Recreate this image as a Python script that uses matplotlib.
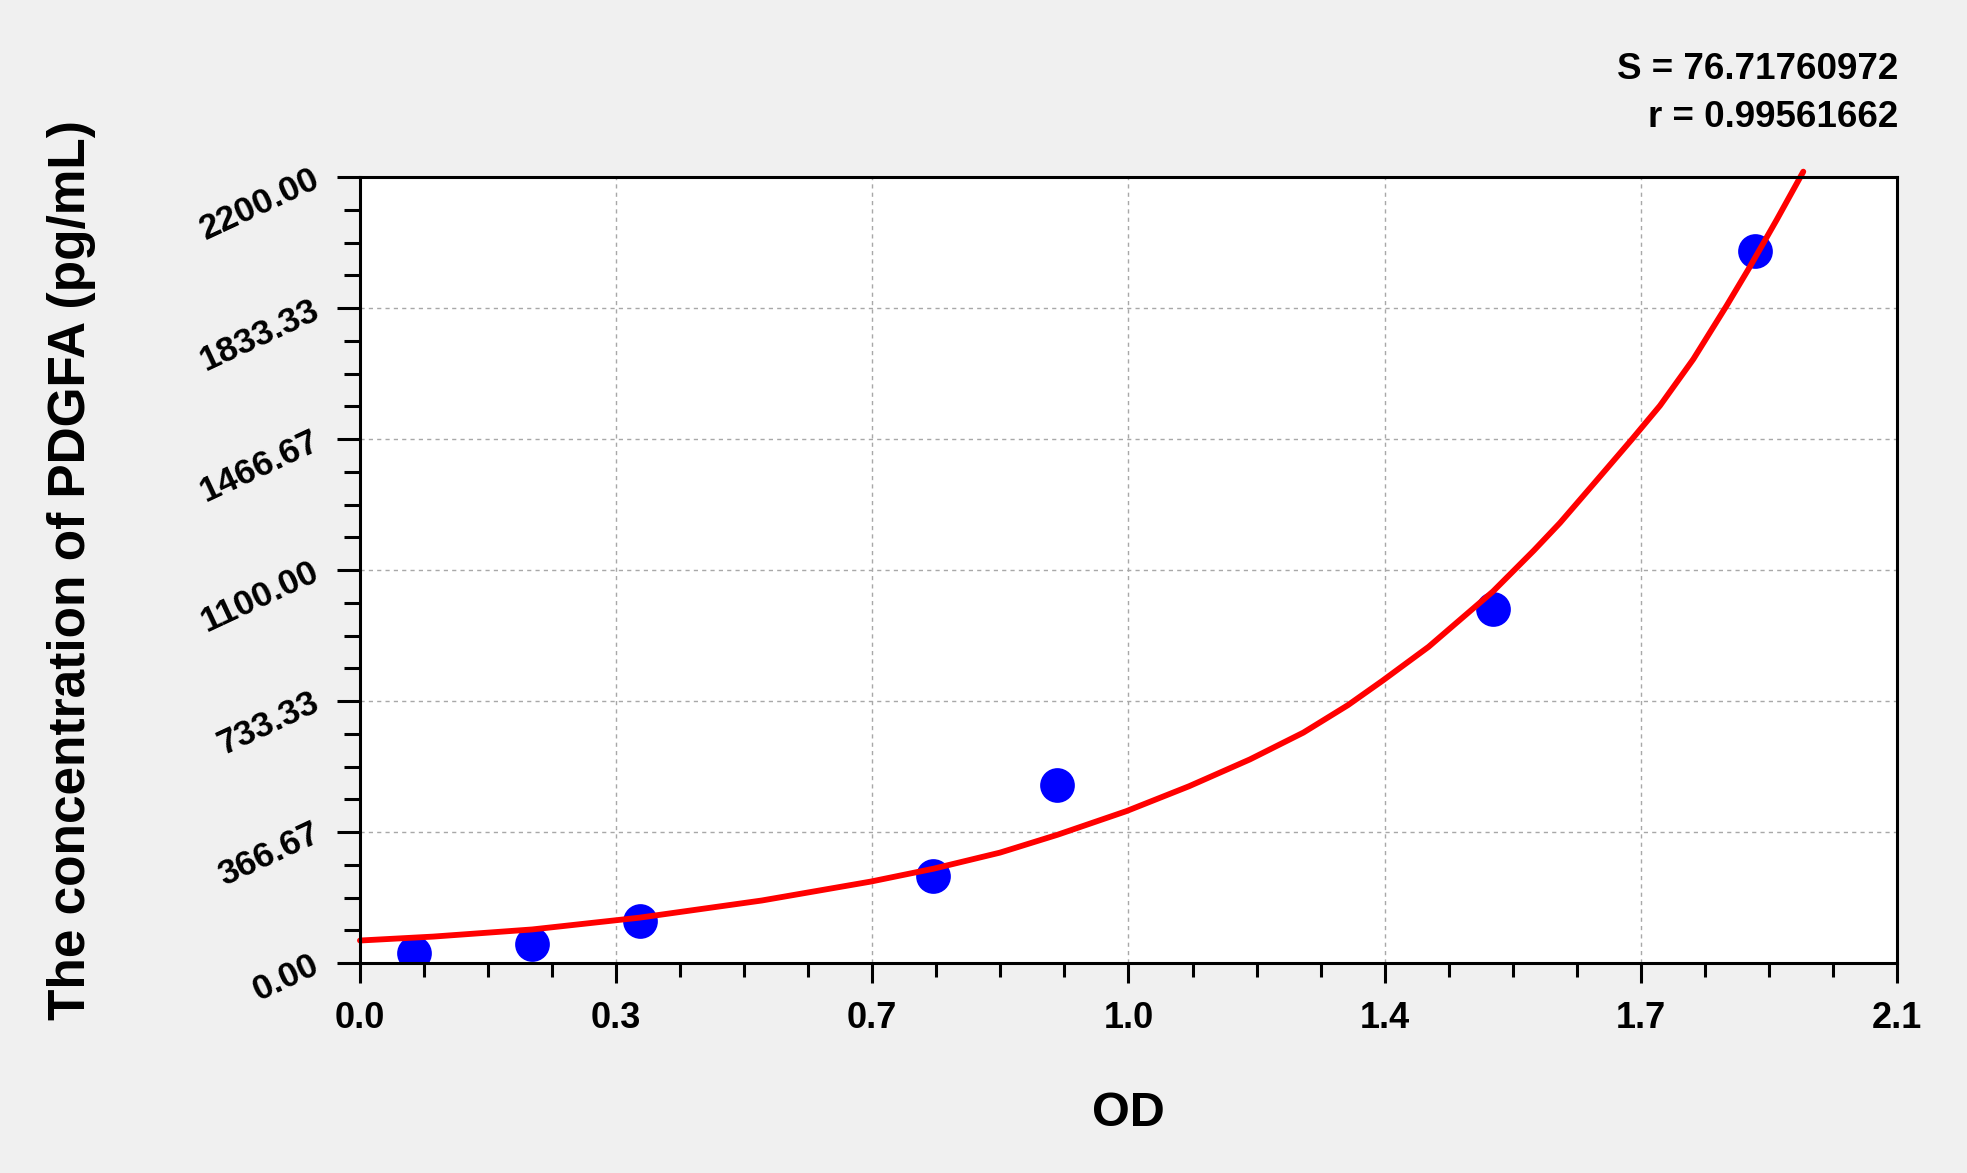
import matplotlib
matplotlib.use("Agg")
import matplotlib.pyplot as plt
from matplotlib.ticker import AutoMinorLocator

plt.rcParams['font.family'] = ['Liberation Sans', 'DejaVu Sans']
plt.rcParams['font.weight'] = 'bold'

# standards
od_points = [0.0745, 0.2353, 0.382, 0.7836, 0.9525, 1.5483, 1.9067]
conc_points = [28, 54, 117, 243, 497, 992, 1992]

# fitted curve
curve_od = [0.0, 0.10, 0.2353, 0.382, 0.549, 0.698, 0.7836, 0.8744, 0.953,
            1.047, 1.133, 1.216, 1.289, 1.350, 1.397, 1.460, 1.548, 1.604,
            1.6396, 1.6851, 1.7375, 1.7762, 1.8217, 1.8673, 1.8991, 1.9356,
            1.972]
curve_conc = [63, 74, 94, 127, 175, 228, 264, 309, 359,
              425, 495, 570, 645, 722, 790, 885, 1040, 1155,
              1232, 1340, 1465, 1560, 1690, 1840, 1949, 2080,
              2215]

x_ticks = [0.0, 0.35, 0.7, 1.05, 1.4, 1.75, 2.1]
x_labels = ['0.0', '0.3', '0.7', '1.0', '1.4', '1.7', '2.1']
y_ticks = [0, 366.67, 733.33, 1100, 1466.67, 1833.33, 2200]
y_labels = ['0.00', '366.67', '733.33', '1100.00', '1466.67', '1833.33', '2200.00']

s_text = 'S = 76.71760972'
r_text = 'r = 0.99561662'

fig = plt.figure(figsize=(19.67, 11.73), dpi=100, facecolor='#f0f0f0')
ax = fig.add_axes([0.1830, 0.179, 0.7814, 0.6701])
ax.set_facecolor('white')

ax.plot(od_points, conc_points, 'o', color='#0000ff', markersize=25,
        markeredgecolor='none', zorder=3)
ax.plot(curve_od, curve_conc, color='#ff0000', linewidth=4.2,
        solid_capstyle='round', solid_joinstyle='round', clip_on=False, zorder=4)

ax.set_xlim(0, 2.1)
ax.set_ylim(0, 2200)
ax.set_xticks(x_ticks)
ax.set_xticklabels(x_labels, fontsize=26, fontweight='bold')
ax.set_yticks(y_ticks)
ax.set_yticklabels(y_labels, fontsize=25.5, fontweight='bold', rotation=25,
                   rotation_mode='anchor', ha='right', va='center')
ax.xaxis.set_minor_locator(AutoMinorLocator(4))
ax.yaxis.set_minor_locator(AutoMinorLocator(4))

ax.tick_params(axis='x', which='major', direction='out', length=14.5, width=2.2, pad=13)
ax.tick_params(axis='x', which='minor', direction='out', length=10, width=2.2)
ax.tick_params(axis='y', which='major', direction='out', length=16.5, width=2.2, pad=14)
ax.tick_params(axis='y', which='minor', direction='out', length=11.5, width=2.2)

ax.grid(True, which='major', color='#a8a8a8', linestyle=(0, (3, 3)), linewidth=1)
ax.set_axisbelow(True)
for sp in ax.spines.values():
    sp.set_linewidth(2.2)
    sp.set_color('black')
    sp.set_zorder(5)

ax.set_xlabel('OD', fontsize=35, fontweight='bold', va='center')
ax.xaxis.set_label_coords(0.5, -0.191)
ax.set_ylabel('The concentration of PDGFA (pg/mL)', fontsize=37,
              fontweight='bold', va='center')
ax.yaxis.set_label_coords(-0.188, 0.5)

ax.text(1.0007, 1.1247, s_text, transform=ax.transAxes, ha='right',
        va='baseline', fontsize=26.5, fontweight='bold')
ax.text(1.0007, 1.0636, r_text, transform=ax.transAxes, ha='right',
        va='baseline', fontsize=26.5, fontweight='bold')

fig.savefig('out.png', dpi=100, facecolor=fig.get_facecolor())
